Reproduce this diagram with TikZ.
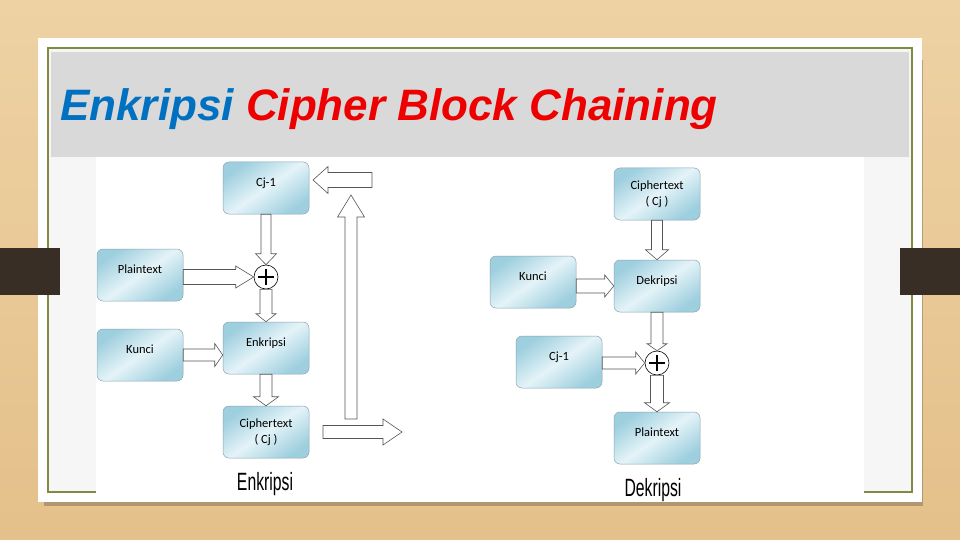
\documentclass[tikz,border=0pt]{standalone}
\usepackage{fontspec}
\setmainfont{Carlito}
\newfontfamily\titlefont{Liberation Sans}
\newfontfamily\condfont[FakeStretch=0.63]{Liberation Sans}
\usetikzlibrary{calc}

\definecolor{wood}{RGB}{228,192,138}
\definecolor{woodlight}{RGB}{238,210,164}
\definecolor{barbrown}{RGB}{56,46,38}
\definecolor{frameline}{RGB}{128,138,66}
\definecolor{slidegrey}{RGB}{246,246,246}
\definecolor{titlegrey}{RGB}{217,217,217}
\definecolor{titleblue}{RGB}{0,112,192}
\definecolor{titlered}{RGB}{238,0,0}
\definecolor{boxdark}{RGB}{158,207,222}
\definecolor{boxlight}{RGB}{228,243,248}
\definecolor{boxedge}{RGB}{140,165,178}
\definecolor{arrowedge}{RGB}{85,85,85}

\tikzset{
  box/.style={draw=boxedge, line width=0.5pt, rounded corners=6pt,
    minimum width=86pt, minimum height=52pt, inner sep=2pt,
    top color=boxdark, bottom color=boxdark, middle color=boxlight,
    shading angle=35, font=\fontsize{12.5}{16}\selectfont},
  upper/.style={text height=8pt, text depth=11pt},
  xor/.style={circle, draw=black, fill=white, line width=0.6pt,
    minimum size=24pt, inner sep=0pt,
    path picture={\draw[line width=2.4pt]
      ([xshift=-8pt]path picture bounding box.center) -- ([xshift=8pt]path picture bounding box.center)
      ([yshift=-8pt]path picture bounding box.center) -- ([yshift=8pt]path picture bounding box.center);}},
  blkarr/.style={draw=arrowedge, fill=white, line width=0.6pt},
  caption/.style={font=\condfont\fontsize{25}{28}\selectfont, inner sep=0pt}
}

% block arrow: start, end, shaft half width, head half width, head length
\newcommand{\fatarrow}[5]{%
  \coordinate (fa-m) at ($(#2)!#5!(#1)$);
  \draw[blkarr] ($(#1)!#3!90:(#2)$) -- ($(fa-m)!#3!-90:(#1)$)
    -- ($(fa-m)!#4!-90:(#1)$) -- (#2) -- ($(fa-m)!#4!90:(#1)$)
    -- ($(fa-m)!#3!90:(#1)$) -- ($(#1)!#3!-90:(#2)$) -- cycle;}

\begin{document}
\begin{tikzpicture}[x=1pt,y=-1pt]
\useasboundingbox (0,0) rectangle (960,540);
% slide
\shade[top color=woodlight, bottom color=wood] (0,0) rectangle (960,540);
\fill[black, opacity=0.22] (44,60) rectangle (923,506);
\fill[white] (38,38) rectangle (922,502);
\fill[slidegrey] (48,48) rectangle (912,492);
\draw[frameline, line width=1.6pt] (48,48) rectangle (912,492);
\fill[titlegrey] (51,52) rectangle (909,157);
\fill[white] (96,157) rectangle (864,500);
\fill[barbrown] (0,248) rectangle (60,295);
\fill[barbrown] (900,248) rectangle (960,295);
\node[anchor=base west, inner sep=0pt,
  font=\titlefont\bfseries\itshape\fontsize{44}{48}\selectfont] (title) at (60,121)
  {\textcolor{titleblue}{Enkripsi} \textcolor{titlered}{Cipher Block Chaining}};

% enkripsi
\node[box, upper] (cjA) at (266,188) {Cj-1};
\node[box, upper] (ptA) at (140,275) {Plaintext};
\node[xor] (xorA) at (266,277) {};
\node[box, upper] (kcA) at (140,355) {Kunci};
\node[box, upper] (enA) at (266,348) {Enkripsi};
\node[box, align=center] (ctA) at (266,432) {Ciphertext\\( Cj )};
\node[caption, anchor=base] (capA) at (265,490) {Enkripsi};
\coordinate (ptOut) at (ptA.east |- xorA.west);
\coordinate (kcIn) at (kcA.east -| enA.west);
\fatarrow{cjA.south}{xorA.north}{5pt}{10.5pt}{11pt}
\fatarrow{ptOut}{xorA.west}{7.5pt}{11pt}{18pt}
\fatarrow{xorA.south}{enA.north}{6pt}{10pt}{8pt}
\fatarrow{kcA.east}{kcIn}{6pt}{11.5pt}{8pt}
\fatarrow{enA.south}{ctA.north}{6pt}{12.5pt}{9pt}

% umpan balik
\coordinate (fbA) at (323,432);
\coordinate (fbB) at (402,432);
\coordinate (fbC) at (351,419);
\coordinate (fbD) at (351,195);
\coordinate (fbE) at (372,180);
\coordinate (fbF) at (313,180);
\fatarrow{fbA}{fbB}{6.5pt}{13pt}{19pt}
\fatarrow{fbC}{fbD}{6pt}{13.5pt}{22pt}
\fatarrow{fbE}{fbF}{7.5pt}{13.5pt}{15pt}

% dekripsi
\node[box, align=center] (ctB) at (657,194) {Ciphertext\\( Cj )};
\node[box, upper] (dkB) at (657,286) {Dekripsi};
\node[box, upper] (kcB) at (533,282) {Kunci};
\node[xor] (xorB) at (657,363) {};
\node[box, upper] (cjB) at (559,362) {Cj-1};
\node[box, upper] (ptB) at (657,438) {Plaintext};
\node[caption, anchor=base] (capB) at (653,496) {Dekripsi};
\coordinate (kcOut) at (kcB.east |- dkB.west);
\coordinate (cjOut) at (cjB.east |- xorB.west);
\fatarrow{ctB.south}{dkB.north}{5.5pt}{11.5pt}{10pt}
\fatarrow{kcOut}{dkB.west}{7pt}{11pt}{9pt}
\fatarrow{dkB.south}{xorB.north}{6pt}{10pt}{7pt}
\fatarrow{cjOut}{xorB.west}{6pt}{11pt}{9pt}
\fatarrow{xorB.south}{ptB.north}{6.5pt}{12.5pt}{9pt}
\end{tikzpicture}
\end{document}
